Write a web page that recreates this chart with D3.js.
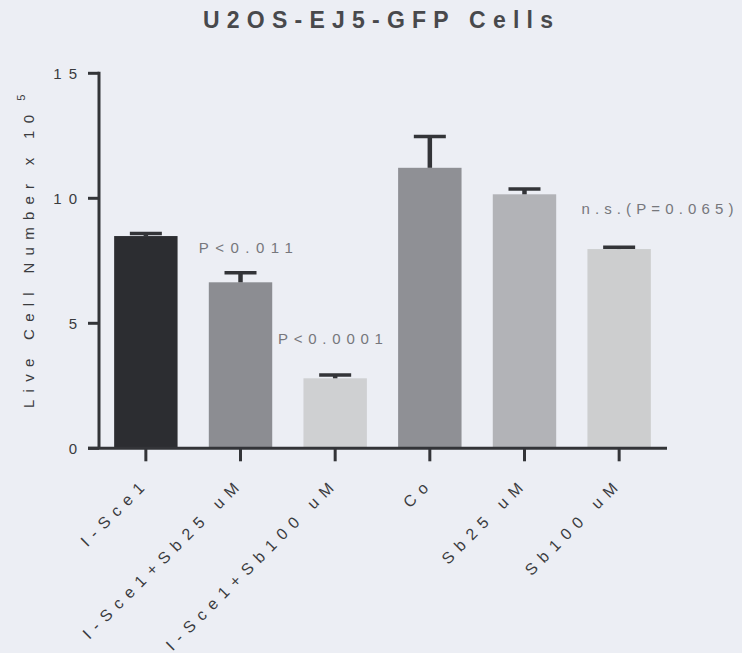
<!DOCTYPE html>
<html>
<head>
<meta charset="utf-8">
<script src="https://cdn.jsdelivr.net/npm/d3@7"></script>
<style>
  html, body { margin: 0; padding: 0; background: #eceef4; }
  svg { display: block; font-family: "Liberation Sans", Arial, sans-serif; }
</style>
</head>
<body>
<svg id="chart" width="742" height="653"></svg>
<script>
// ---- data ----
const categories = ["I-Sce1", "I-Sce1+Sb25 uM", "I-Sce1+Sb100 uM", "Co", "Sb25 uM", "Sb100 uM"];
const means = [8.49, 6.64, 2.80, 11.22, 10.16, 7.97];
const errors = [0.10, 0.38, 0.13, 1.25, 0.21, 0.07];
const barColors = ["#2c2d31", "#8c8d92", "#cfd0d2", "#8f9095", "#b2b3b7", "#cdcecf"];
const yTicks = [0, 5, 10, 15];
const title = "U2OS-EJ5-GFP Cells";
const yLabel = "Live Cell Number x 10";
const yLabelSup = "5";
const annotationTexts = ["P<0.011", "P<0.0001", "n.s.(P=0.065)"];
const annotationCats = [1, 2, 5];
const annotationValues = [7.83, 4.17, 9.37];

// ---- layout ----
const svg = d3.select("#chart");
const axisColor = "#333438";
const textColor = "#3a3b3e";
const annOffsets = [-10, -25.5, -6];      // px from bar start
const annWidths = [94, 105, 152];         // ink widths in px

const x = d3.scaleBand().domain(categories).range([99, 666]).paddingInner(0.33).paddingOuter(0.16);
const y = d3.scaleLinear().domain([0, 15]).range([448.3, 73.3]);
const cx = d => x(d) + x.bandwidth() / 2;

function natural(el) {
  el.style.letterSpacing = "0px";
  return el.getComputedTextLength();
}

// bars
svg.append("g").selectAll("rect").data(categories).join("rect")
  .attr("x", d => x(d))
  .attr("y", (d, i) => y(means[i]))
  .attr("width", x.bandwidth())
  .attr("height", (d, i) => y(0) - y(means[i]))
  .attr("fill", (d, i) => barColors[i]);

// error bars
const eb = svg.append("g").attr("stroke", axisColor);
categories.forEach((c, i) => {
  eb.append("line").attr("x1", cx(c)).attr("x2", cx(c))
    .attr("y1", y(means[i])).attr("y2", y(means[i] + errors[i]))
    .attr("stroke-width", 4.5);
  eb.append("line").attr("x1", cx(c) - 16).attr("x2", cx(c) + 16)
    .attr("y1", y(means[i] + errors[i])).attr("y2", y(means[i] + errors[i]))
    .attr("stroke-width", 3.5);
});

// y axis
const yAxisG = svg.append("g");
yAxisG.append("line").attr("x1", 99).attr("x2", 99).attr("y1", y(15) - 1.5).attr("y2", y(0))
  .attr("stroke", axisColor).attr("stroke-width", 3);
yAxisG.selectAll(".yt").data(yTicks).join("line")
  .attr("x1", 88).attr("x2", 99).attr("y1", d => y(d)).attr("y2", d => y(d))
  .attr("stroke", axisColor).attr("stroke-width", 3);
const yTickLs = 7;
yAxisG.selectAll(".yl").data(yTicks).join("text")
  .attr("y", d => y(d)).attr("dy", "0.36em")
  .attr("font-size", 15).attr("fill", textColor).text(d => d)
  .each(function () {
    const n = this.textContent.length;
    const L = natural(this);
    this.style.letterSpacing = yTickLs + "px";
    d3.select(this).attr("x", 77 - L - (n - 1) * yTickLs);
  });

// x axis
const xAxisG = svg.append("g");
xAxisG.append("line").attr("x1", 88).attr("x2", 667).attr("y1", y(0)).attr("y2", y(0))
  .attr("stroke", axisColor).attr("stroke-width", 3);
xAxisG.selectAll(".xt").data(categories).join("line")
  .attr("x1", cx).attr("x2", cx)
  .attr("y1", y(0)).attr("y2", y(0) + 13)
  .attr("stroke", axisColor).attr("stroke-width", 3);
const xLs = 7.2;
xAxisG.selectAll(".xl").data(categories).join("text")
  .attr("transform", d => `translate(${cx(d) - 0.5},${y(0) + 41}) rotate(-45)`)
  .attr("font-size", 16).attr("fill", textColor).text(d => d)
  .each(function () {
    const n = this.textContent.length;
    const L = natural(this);
    this.style.letterSpacing = xLs + "px";
    d3.select(this).attr("x", -(L + (n - 1) * xLs));
  });

// annotations
svg.append("g").selectAll("text").data(annotationTexts).join("text")
  .attr("x", (d, i) => x(categories[annotationCats[i]]) + annOffsets[i])
  .attr("y", (d, i) => y(annotationValues[i]))
  .attr("font-size", 15).attr("fill", "#76777c").text(d => d)
  .each(function (d, i) {
    const n = this.textContent.length;
    const L = natural(this);
    this.style.letterSpacing = ((annWidths[i] - L) / (n - 1)) + "px";
  });

// title
svg.append("text").attr("x", 203).attr("y", 28)
  .attr("font-size", 23).attr("font-weight", "bold")
  .attr("fill", "#48494c").text(title)
  .each(function () {
    const n = this.textContent.length;
    const L = natural(this);
    this.style.letterSpacing = ((350 - L) / (n - 1)) + "px";
  });

// y label
const yl = svg.append("text").attr("transform", "translate(34,408) rotate(-90)")
  .attr("font-size", 15).attr("fill", textColor);
const ylMain = yl.append("tspan").text(yLabel);
yl.append("tspan").attr("dy", -9).attr("dx", 7).attr("font-size", 11).text(yLabelSup);
{
  const Lm = ylMain.node().getComputedTextLength();
  const s = (293 - Lm) / (yLabel.length - 1);
  yl.style("letter-spacing", s + "px");
}
</script>
</body>
</html>
